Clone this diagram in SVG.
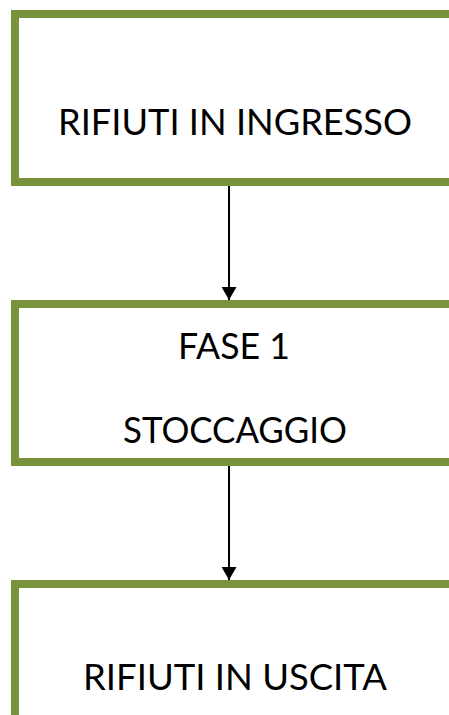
<svg xmlns="http://www.w3.org/2000/svg" width="449" height="715" viewBox="0 0 449 715">
<style>
.box{fill:#ffffff;stroke:#77933C;stroke-width:8}
.lbl{font-family:Lato,"Open Sans","Liberation Sans",sans-serif;font-size:37px;fill:#000000;text-anchor:middle}
.conn{stroke:#000000;stroke-width:2;fill:none}
</style>
<defs>
<marker id="ah" markerWidth="13" markerHeight="15" refX="13" refY="7.5" orient="auto" markerUnits="userSpaceOnUse">
<path d="M0,0 L13,7.5 L0,15 Z" fill="#000000"/>
</marker>
</defs>
<rect width="449" height="715" fill="#ffffff"/>
<g id="node-ingresso">
<rect class="box" x="15" y="14" width="450" height="168"/>
<text class="lbl" x="235" y="135" textLength="354" lengthAdjust="spacingAndGlyphs">RIFIUTI IN INGRESSO</text>
</g>
<g id="node-fase1">
<rect class="box" x="15" y="304" width="450" height="158"/>
<text class="lbl" x="234" y="359" textLength="112" lengthAdjust="spacingAndGlyphs">FASE 1</text>
<text class="lbl" x="235" y="443" textLength="224" lengthAdjust="spacingAndGlyphs">STOCCAGGIO</text>
</g>
<g id="node-uscita">
<rect class="box" x="15" y="584" width="450" height="200"/>
<text class="lbl" x="235" y="690" textLength="304" lengthAdjust="spacingAndGlyphs">RIFIUTI IN USCITA</text>
</g>
<g id="connectors">
<line class="conn" x1="229" y1="186" x2="229" y2="300" marker-end="url(#ah)"/>
<line class="conn" x1="229" y1="466" x2="229" y2="580" marker-end="url(#ah)"/>
</g>
</svg>
